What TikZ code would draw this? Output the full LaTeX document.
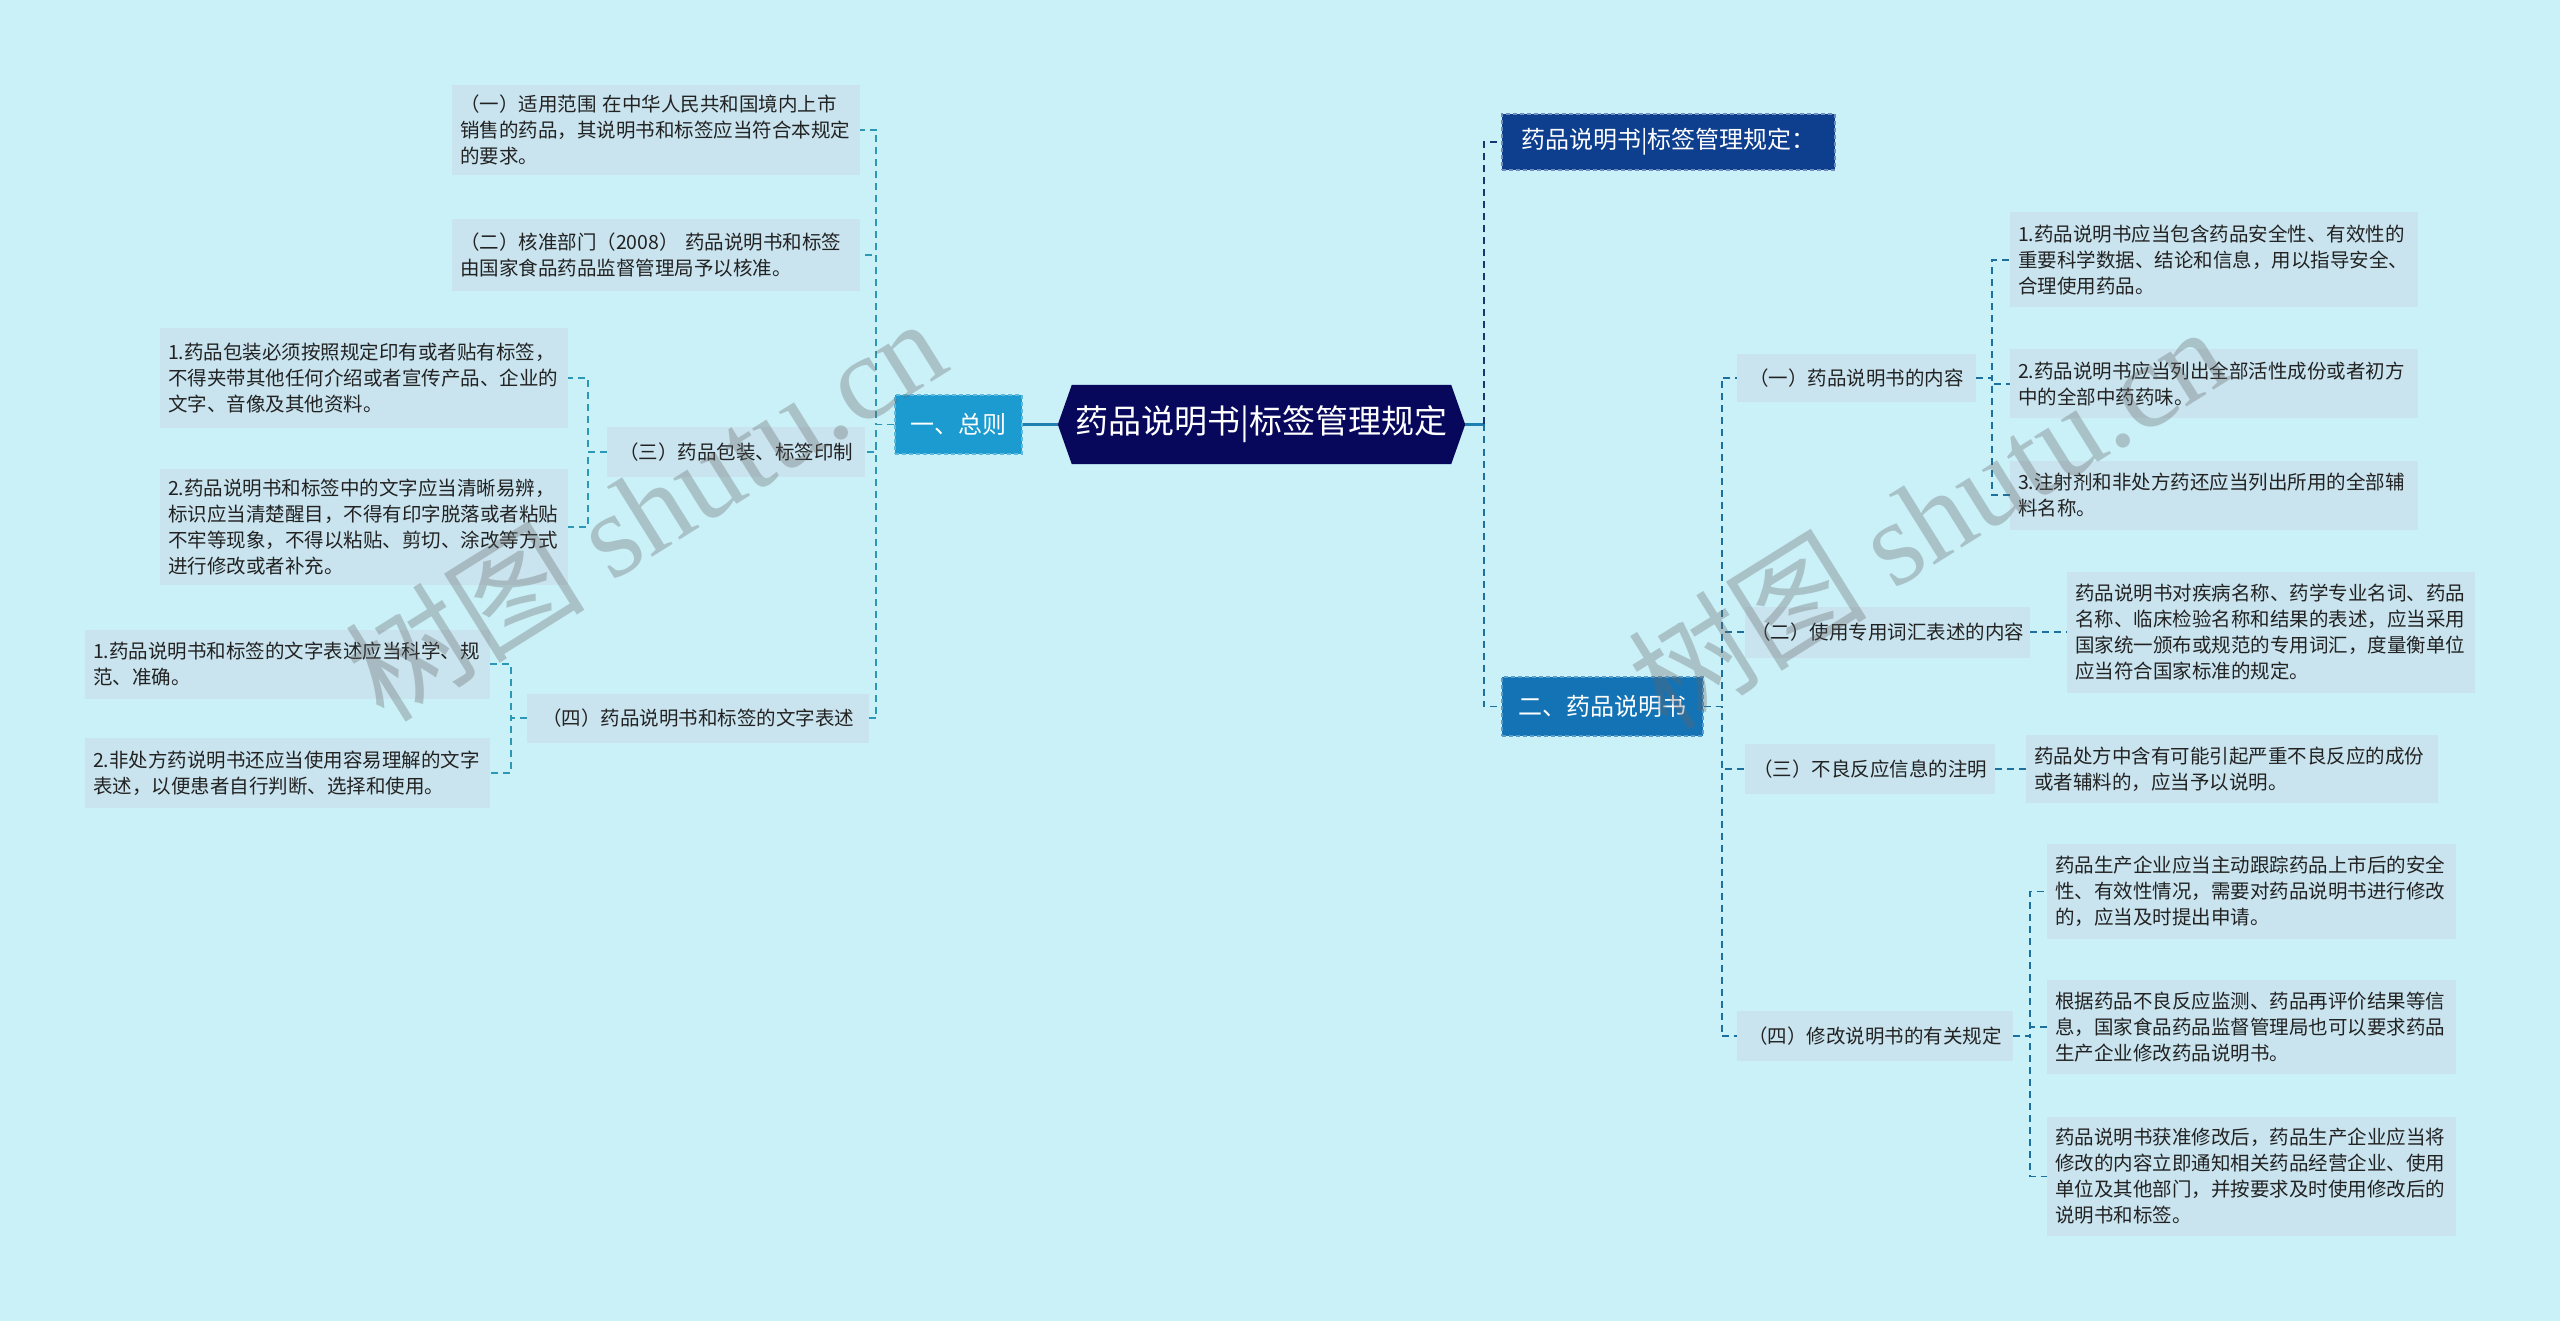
\documentclass[tikz,border=0pt]{standalone}
\usepackage{fontspec}
\setmainfont{Noto Sans CJK SC}
\newfontfamily\wmlatin{Liberation Serif}
\usetikzlibrary{backgrounds}
\definecolor{bgc}{HTML}{CAF0F8}
\definecolor{leafc}{HTML}{C9E4EF}
\definecolor{txt}{HTML}{222222}
\definecolor{rootfill}{HTML}{07085C}
\definecolor{zzfill}{HTML}{1B9BCF}
\definecolor{r0fill}{HTML}{0E3F8F}
\definecolor{erfill}{HTML}{1473B4}
\definecolor{lcon}{HTML}{2C98B6}
\definecolor{rcon}{HTML}{1D6F9C}
\definecolor{ncon}{HTML}{1A3670}
\definecolor{scon}{HTML}{1F7FB0}
\tikzset{
  leaf/.style={fill=leafc, text=txt, font=\fontsize{19.5}{26}\selectfont, align=left, inner xsep=8pt, inner ysep=0pt, anchor=center},
  lab/.style={fill=leafc, text=txt, font=\fontsize{19.5}{24}\selectfont, align=center, inner sep=0pt, anchor=center},
  bigbox/.style={text=white, font=\fontsize{24}{28}\selectfont, align=center, inner sep=0pt, anchor=center, line width=1.4pt, dash pattern=on 4pt off 3pt},
  lconn/.style={draw=lcon, line width=1.8pt, dash pattern=on 7pt off 5pt},
  rconn/.style={draw=rcon, line width=1.8pt, dash pattern=on 7pt off 5pt},
  nconn/.style={draw=ncon, line width=2pt, dash pattern=on 7pt off 5pt},
  sconn/.style={draw=scon, line width=2.2pt},
  wmark/.style={rotate=32, text=black!60, opacity=0.33, font=\fontsize{120}{120}\selectfont},
}
\begin{document}
\begin{tikzpicture}[x=1pt,y=-1pt]
\useasboundingbox (0,0) rectangle (2560,1321);
% root
\node[text=white, font=\fontsize{33}{36}\selectfont, inner sep=0pt, minimum width=407pt, minimum height=79pt] (root) at (1261.5,424.5) {药品说明书|标签管理规定};
\begin{pgfonlayer}{background}
\fill[bgc] (0,0) rectangle (2560,1321);
\fill[rootfill] (root.west) -- ([xshift=14pt]root.north west) -- ([xshift=-14pt]root.north east) -- (root.east) -- ([xshift=-14pt]root.south east) -- ([xshift=14pt]root.south west) -- cycle;
\end{pgfonlayer}

% ---------- left side ----------
\node[bigbox, fill=zzfill, draw=zzfill!70!white, minimum width=127pt, minimum height=59pt] (zz) at (958.5,424.5) {一、总则};

\node[leaf, text width=392pt, minimum height=90pt] (L1) at (656,130) {（一）适用范围 在中华人民共和国境内上市\\销售的药品，其说明书和标签应当符合本规定\\的要求。};
\node[leaf, text width=392pt, minimum height=72pt] (L2) at (656,255) {（二）核准部门（2008） 药品说明书和标签\\由国家食品药品监督管理局予以核准。};
\node[lab, minimum width=258pt, minimum height=49pt] (L3) at (736,452) {（三）药品包装、标签印制};
\node[leaf, text width=392pt, minimum height=100pt] (L3a) at (364,378) {1.药品包装必须按照规定印有或者贴有标签，\\不得夹带其他任何介绍或者宣传产品、企业的\\文字、音像及其他资料。};
\node[leaf, text width=392pt, minimum height=116pt] (L3b) at (364,527) {2.药品说明书和标签中的文字应当清晰易辨，\\标识应当清楚醒目，不得有印字脱落或者粘贴\\不牢等现象，不得以粘贴、剪切、涂改等方式\\进行修改或者补充。};
\node[lab, minimum width=342pt, minimum height=49pt] (L4) at (698,718) {（四）药品说明书和标签的文字表述};
\node[leaf, text width=389pt, minimum height=69pt] (L4a) at (287.5,664) {1.药品说明书和标签的文字表述应当科学、规\\范、准确。};
\node[leaf, text width=389pt, minimum height=70pt] (L4b) at (287.5,773) {2.非处方药说明书还应当使用容易理解的文字\\表述，以便患者自行判断、选择和使用。};

\draw[sconn] (root.west) -- (zz.east);
\draw[lconn] (zz.west) -- ++(-18,0) |- (L1.east);
\draw[lconn] (zz.west) -- ++(-18,0) |- (L2.east);
\draw[lconn] (zz.west) -- ++(-18,0) |- (L3.east);
\draw[lconn] (zz.west) -- ++(-18,0) |- (L4.east);
\draw[lconn] (L3.west) -- ++(-19,0) |- (L3a.east);
\draw[lconn] (L3.west) -- ++(-19,0) |- (L3b.east);
\draw[lconn] (L4.west) -- ++(-16,0) |- (L4a.east);
\draw[lconn] (L4.west) -- ++(-16,0) |- (L4b.east);

% ---------- right side ----------
\coordinate (rj) at (1484,424.5);
\node[bigbox, fill=r0fill, draw=r0fill!60!white, minimum width=333pt, minimum height=56pt] (R0) at (1668.5,142) {药品说明书|标签管理规定：};
\node[bigbox, fill=erfill, draw=erfill!70!white, minimum width=201pt, minimum height=59pt] (er) at (1602.5,706.5) {二、药品说明书};

\node[lab, minimum width=239pt, minimum height=48pt] (R1) at (1856.5,378) {（一）药品说明书的内容};
\node[leaf, text width=392pt, minimum height=95pt] (R1a) at (2214,260) {1.药品说明书应当包含药品安全性、有效性的\\重要科学数据、结论和信息，用以指导安全、\\合理使用药品。};
\node[leaf, text width=392pt, minimum height=69pt] (R1b) at (2214,384) {2.药品说明书应当列出全部活性成份或者初方\\中的全部中药药味。};
\node[leaf, text width=392pt, minimum height=69pt] (R1c) at (2214,495) {3.注射剂和非处方药还应当列出所用的全部辅\\料名称。};

\node[lab, minimum width=285pt, minimum height=51pt] (R2) at (1887.5,632) {（二）使用专用词汇表述的内容};
\node[leaf, text width=392pt, minimum height=121pt] (R2a) at (2271,632) {药品说明书对疾病名称、药学专业名词、药品\\名称、临床检验名称和结果的表述，应当采用\\国家统一颁布或规范的专用词汇，度量衡单位\\应当符合国家标准的规定。};

\node[lab, minimum width=250pt, minimum height=50pt] (R3) at (1870,769) {（三）不良反应信息的注明};
\node[leaf, text width=396pt, minimum height=68pt] (R3a) at (2232,769) {药品处方中含有可能引起严重不良反应的成份\\或者辅料的，应当予以说明。};

\node[lab, minimum width=276pt, minimum height=50pt] (R4) at (1875,1036) {（四）修改说明书的有关规定};
\node[leaf, text width=393pt, minimum height=95pt] (R4a) at (2251.5,891.5) {药品生产企业应当主动跟踪药品上市后的安全\\性、有效性情况，需要对药品说明书进行修改\\的，应当及时提出申请。};
\node[leaf, text width=393pt, minimum height=94pt] (R4b) at (2251.5,1027) {根据药品不良反应监测、药品再评价结果等信\\息，国家食品药品监督管理局也可以要求药品\\生产企业修改药品说明书。};
\node[leaf, text width=393pt, minimum height=119pt] (R4c) at (2251.5,1176.5) {药品说明书获准修改后，药品生产企业应当将\\修改的内容立即通知相关药品经营企业、使用\\单位及其他部门，并按要求及时使用修改后的\\说明书和标签。};

\draw[sconn] (root.east) -- (rj);
\draw[nconn] (rj) |- (R0.west);
\draw[rconn] (rj) |- (er.west);
\draw[rconn] (er.east) -- ++(18,0) |- (R1.west);
\draw[rconn] (er.east) -- ++(18,0) |- (R2.west);
\draw[rconn] (er.east) -- ++(18,0) |- (R3.west);
\draw[rconn] (er.east) -- ++(18,0) |- (R4.west);
\draw[rconn] (R1.east) -- ++(16,0) |- (R1a.west);
\draw[rconn] (R1.east) -- ++(16,0) |- (R1b.west);
\draw[rconn] (R1.east) -- ++(16,0) |- (R1c.west);
\draw[rconn] (R2.east) -- (R2a.west);
\draw[rconn] (R3.east) -- (R3a.west);
\draw[rconn] (R4.east) -- ++(17,0) |- (R4a.west);
\draw[rconn] (R4.east) -- ++(17,0) |- (R4b.west);
\draw[rconn] (R4.east) -- ++(17,0) |- (R4c.west);

% watermarks
\node[wmark] (wm1) at (645,508) {树图 {\wmlatin shutu.cn}};
\node[wmark] (wm2) at (1927,516) {树图 {\wmlatin shutu.cn}};
\end{tikzpicture}
\end{document}
